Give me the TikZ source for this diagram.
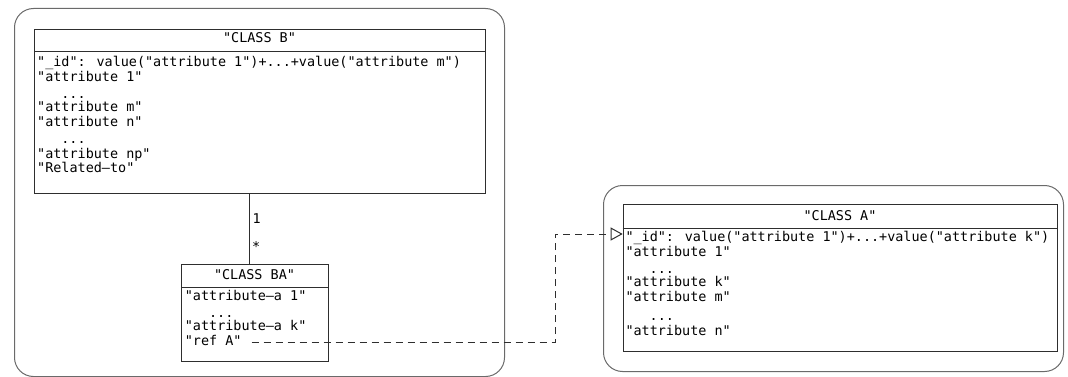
\documentclass[tikz,border=0pt]{standalone}
\usepackage{fontspec}
\usetikzlibrary{arrows.meta}
\newfontfamily\monof{DejaVu Sans Mono}
\definecolor{boxc}{HTML}{2E2E2E}
\definecolor{contc}{HTML}{6A6A6A}
\begin{document}
\begin{tikzpicture}[x=1pt,y=-1pt,
  cont/.style={draw=contc, line width=1pt, rounded corners=19pt, inner sep=0, anchor=north west},
  classbox/.style={draw=boxc, line width=1pt, inner sep=0, anchor=north west},
  sep/.style={draw=boxc, line width=1pt},
  txt/.style={font=\monof\fontsize{13.45}{16}\selectfont, inner sep=0, anchor=base west},
  hdr/.style={font=\monof\fontsize{13.45}{16}\selectfont, inner sep=0, anchor=base},
  assoc/.style={draw=boxc, line width=1pt},
  dep/.style={draw=boxc, line width=1pt, dash pattern=on 7pt off 5pt, -{Triangle[open, length=12pt, width=13pt]}}
]
\useasboundingbox (0,0) rectangle (1068,377);
% containers
\node[cont, minimum width=490pt, minimum height=368pt] (gB) at (14,8) {};
\node[cont, minimum width=460pt, minimum height=186pt] (gA) at (603,185) {};
% class B
\node[classbox, minimum width=451pt, minimum height=164pt] (B) at (34,29) {};
\draw[sep] ([yshift=-23pt]B.north west) -- ([yshift=-23pt]B.north east);
\node[hdr] (Bh) at (259.5,43) {"CLASS B"};
\node[txt] (b1) at (37,66.7) {"\_id": value("attribute 1")+...+value("attribute m")};
\node[txt] (b2) at (37,81.7) {"attribute 1"};
\node[txt] (b3) at (37,98.5) {\hspace*{24.2pt}...};
\node[txt] (b4) at (37,111.7) {"attribute m"};
\node[txt] (b5) at (37,126.5) {"attribute n"};
\node[txt] (b6) at (37,144) {\hspace*{24.2pt}...};
\node[txt] (b7) at (37,158) {"attribute np"};
\node[txt] (b8) at (37,172.7) {"Related–to"};
% class BA
\node[classbox, minimum width=147pt, minimum height=97pt] (BA) at (181,264) {};
\draw[sep] ([yshift=-23.3pt]BA.north west) -- ([yshift=-23.3pt]BA.north east);
\node[hdr] (BAh) at (254.5,279) {"CLASS BA"};
\node[txt] (ba1) at (184.7,300.7) {"attribute–a 1"};
\node[txt] (ba2) at (184.7,317) {\hspace*{24.2pt}...};
\node[txt] (ba3) at (184.7,330.7) {"attribute–a k"};
\node[txt] (ba4) at (184.7,345) {"ref A"};
% class A
\node[classbox, minimum width=434.3pt, minimum height=146.4pt] (A) at (622.7,204.3) {};
\draw[sep] ([yshift=-24pt]A.north west) -- ([yshift=-24pt]A.north east);
\node[hdr] (Ah) at (840,220) {"CLASS A"};
\node[txt] (a1) at (625.3,241.7) {"\_id": value("attribute 1")+...+value("attribute k")};
\node[txt] (a2) at (625.3,256.7) {"attribute 1"};
\node[txt] (a3) at (625.3,273.5) {\hspace*{24.2pt}...};
\node[txt] (a4) at (625.3,286.7) {"attribute k"};
\node[txt] (a5) at (625.3,301.2) {"attribute m"};
\node[txt] (a6) at (625.3,320) {\hspace*{24.2pt}...};
\node[txt] (a7) at (625.3,335) {"attribute n"};
% association B -- BA
\coordinate (ax) at (249.5,0);
\draw[assoc] (ax |- B.south) -- (ax |- BA.north);
\node[txt] (m1) at (252.5,223.3) {1};
\node[txt] (m2) at (252,251) {*};
% dependency ref A -> class A
\coordinate (s) at (251.7,342.7);
\coordinate (k) at (555,234);
\draw[dep] (s) -| (k) -- (A.west |- k);
\end{tikzpicture}
\end{document}
